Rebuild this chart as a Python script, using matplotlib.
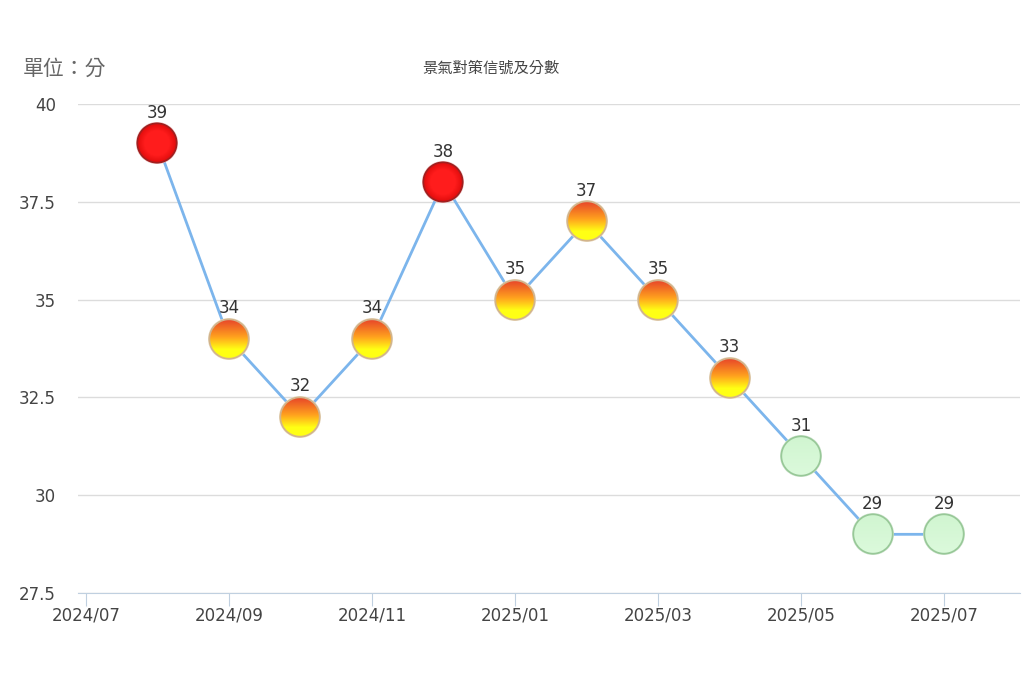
import numpy as np
import matplotlib
matplotlib.use("Agg")
import matplotlib.pyplot as plt
from matplotlib.offsetbox import OffsetImage, AnnotationBbox

# ---- data ----
months = ["2024/08", "2024/09", "2024/10", "2024/11", "2024/12", "2025/01",
          "2025/02", "2025/03", "2025/04", "2025/05", "2025/06", "2025/07"]
scores = [39, 34, 32, 34, 38, 35, 37, 35, 33, 31, 29, 29]
signals = ["red", "yellowred", "yellowred", "yellowred", "red", "yellowred",
           "yellowred", "yellowred", "yellowred", "green", "green", "green"]
tick_labels = ["2024/07", "2024/09", "2024/11", "2025/01", "2025/03", "2025/05", "2025/07"]
y_ticks = [27.5, 30, 32.5, 35, 37.5, 40]
y_tick_labels = ["27.5", "30", "32.5", "35", "37.5", "40"]

title = "景氣對策信號及分數"
unit = "單位：分"

plt.rcParams['font.family'] = ['DejaVu Sans', 'Noto Sans CJK TC']

def hex2rgb(h):
    h = h.lstrip('#')
    return np.array([int(h[i:i + 2], 16) / 255 for i in (0, 2, 4)])

def ball(kind, size=48, R=20.5):
    yy, xx = np.mgrid[0:size, 0:size].astype(float)
    c = (size - 1) / 2
    r = np.hypot(xx - c, yy - c)
    t = np.clip((yy - (c - R)) / (2 * R), 0, 1)[..., None]  # 0 top -> 1 bottom
    img = np.zeros((size, size, 4))
    if kind == "red":
        inner = hex2rgb("#ff1c1c")
        edge = hex2rgb("#dc0a0a")
        k = np.clip((r - R * 0.6) / (R * 0.4), 0, 1)[..., None]
        fill = inner * (1 - k) + edge * k
        border = hex2rgb("#a02020")
        halo = hex2rgb("#e8b8b8")
    elif kind == "yellowred":
        top = hex2rgb("#e6402a")
        mid = hex2rgb("#ffa21e")
        bot = hex2rgb("#ffff14")
        tt = t
        fill = np.where(tt < 0.45, top + (mid - top) * (tt / 0.45),
                        mid + (bot - mid) * np.clip((tt - 0.45) / 0.3, 0, 1))
        border = hex2rgb("#d2b48c")
        halo = hex2rgb("#eadcc4")
    else:
        top = hex2rgb("#d0f5d0")
        bot = hex2rgb("#dcfadc")
        fill = top * (1 - t) + bot * t
        border = hex2rgb("#98c898")
        halo = hex2rgb("#cfe4cf")
    bw = np.clip(r - (R - 2.2), 0, 1)[..., None]
    col = fill * (1 - bw) + border * bw
    hk = np.clip(r - (R - 0.5), 0, 1)[..., None]
    col = col * (1 - hk) + halo * hk
    alpha = np.clip(R + 1.0 - r, 0, 1)
    img[..., :3] = col
    img[..., 3] = alpha
    return img

fig = plt.figure(figsize=(10.24, 6.83), dpi=100)
ax = fig.add_axes([78 / 1024, 1 - 593 / 683, (1020 - 78) / 1024, (593 - 104) / 683])

x = np.arange(1, len(months) + 1)
ax.plot(x, scores, color="#7cb5ec", lw=2, zorder=2, solid_joinstyle="round")

imgs = {k: ball(k) for k in set(signals)}
for xi, yi, s in zip(x, scores, signals):
    ab = AnnotationBbox(OffsetImage(imgs[s], zoom=72 / 100), (xi, yi),
                        frameon=False, pad=0, zorder=3)
    ax.add_artist(ab)
    ax.annotate(str(yi), (xi, yi), xytext=(0, 22), textcoords="offset points",
                ha="center", va="center", fontsize=12, color="#333333", zorder=4)

ax.set_xlim(-0.11, 13.06)
ax.set_ylim(27.5, 40)
ax.set_xticks(np.arange(0, 13, 2))
ax.set_xticklabels(tick_labels, fontsize=12, color="#444444")
ax.set_yticks(y_ticks)
ax.set_yticklabels(y_tick_labels, fontsize=12, color="#444444")
ax.grid(axis="y", color="#dcdcdc", lw=1)
ax.set_axisbelow(True)
for sp in ["top", "right", "left"]:
    ax.spines[sp].set_visible(False)
ax.spines["bottom"].set_color("#c0d0e0")
ax.tick_params(axis="x", length=9, color="#c0d0e0", pad=1)
ax.tick_params(axis="y", length=0, pad=16)

fig.text(23 / 1024, 1 - 69 / 683, unit, fontsize=15, color="#666666",
         va="center", ha="left", family=['Noto Sans CJK TC', 'DejaVu Sans'])
fig.text(491 / 1024, 1 - 68 / 683, title, fontsize=11, color="#444444",
         va="center", ha="center", family=['Noto Sans CJK TC', 'DejaVu Sans'])

fig.savefig("out.png", dpi=100)
